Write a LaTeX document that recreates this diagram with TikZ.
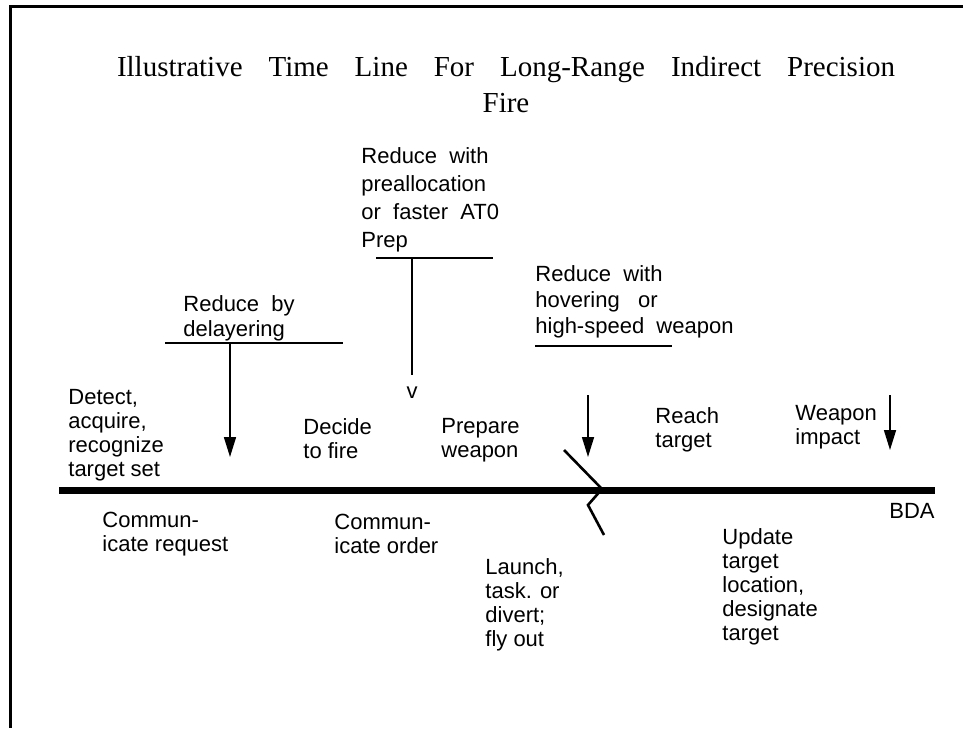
\documentclass[tikz,border=0pt]{standalone}
\usepackage{fontspec}
\setmainfont{Liberation Sans}
\newfontfamily\titlefont{Liberation Serif}
\usetikzlibrary{arrows.meta}

\begin{document}
\begin{tikzpicture}[
    x=0.5pt, y=-0.5pt,
    every node/.style={inner sep=0pt},
    lbl/.style={anchor=north west, align=left, font=\fontsize{11}{12}\selectfont},
    note/.style={lbl, font=\fontsize{11}{13}\selectfont},
    bar/.style={line width=1.3pt},
    arr/.style={line width=0.8pt, -{Triangle[length=10pt, width=6pt]}},
    axis/.style={line width=3.5pt}
  ]
  \useasboundingbox (0,0) rectangle (963,728);
  \draw[line width=1.5pt] (963,6) -- (10,6) -- (10,728);

  \node[anchor=north, align=center, font=\titlefont\fontsize{14.5}{18}\selectfont] (title) at (506,56)
    {\makebox[389pt][s]{Illustrative Time Line For Long-Range Indirect Precision}\\Fire};

  % time line
  \coordinate (t0) at (59,490);
  \coordinate (t1) at (935,490);
  \draw[axis] (t0) -- (t1);
  \node[anchor=north east, font=\fontsize{11}{12}\selectfont] (bda) at (935,503) {BDA};

  % events above the line
  \node[lbl] (detect) at (68,389) {Detect,\\acquire,\\recognize\\target set};
  \node[lbl] (decide) at (303,418) {Decide\\to fire};
  \node[lbl] (prepare) at (441,418) {Prepare\\weapon};
  \node[lbl] (reach) at (655,407) {Reach\\target};
  \node[lbl] (impact) at (795,405) {Weapon\\impact};

  % events below the line
  \node[lbl] (commreq) at (102,512) {Commun-\\icate request};
  \node[lbl] (commord) at (334,514) {Commun-\\icate order};
  \node[lbl] (launch) at (485,558) {Launch,\\task. or\\divert;\\fly out};
  \node[lbl] (update) at (722,528) {Update\\target\\location,\\designate\\target};

  % reductions
  \node[note, font=\fontsize{11}{12.5}\selectfont] (delayer) at (183,295) {Reduce \ by\\delayering};
  \coordinate (d0) at (165,343);
  \coordinate (d1) at (343,343);
  \coordinate (dtop) at (230,343);
  \coordinate (dtip) at (230,457);
  \draw[bar] (d0) -- (d1);
  \draw[arr] (dtop) -- (dtip);

  \node[note, font=\fontsize{11}{14}\selectfont] (prealloc) at (361,147)
    {Reduce \ with\\preallocation\\or \ faster \ AT0\\Prep};
  \coordinate (p0) at (376,258);
  \coordinate (p1) at (493,258);
  \coordinate (ptop) at (412,258);
  \coordinate (pbot) at (412,375);
  \draw[bar] (p0) -- (p1);
  \draw[bar] (ptop) -- (pbot);
  \node[anchor=north, font=\fontsize{11}{12}\selectfont] (pv) at (412,386) {v};

  \node[note] (hover) at (535,265) {Reduce \ with\\hovering \ \ or\\high-speed \ weapon};
  \coordinate (h0) at (535,346);
  \coordinate (h1) at (672,346);
  \draw[bar] (h0) -- (h1);

  \coordinate (ltop) at (588,395);
  \coordinate (ltip) at (588,457);
  \draw[arr] (ltop) -- (ltip);
  \coordinate (z0) at (564,450);
  \coordinate (z1) at (602,489);
  \coordinate (z2) at (588,505);
  \coordinate (z3) at (604,535);
  \draw[bar] (z0) -- (z1) -- (z2) -- (z3);

  \coordinate (wtop) at (890,395);
  \coordinate (wtip) at (890,450);
  \draw[arr] (wtop) -- (wtip);
\end{tikzpicture}
\end{document}
